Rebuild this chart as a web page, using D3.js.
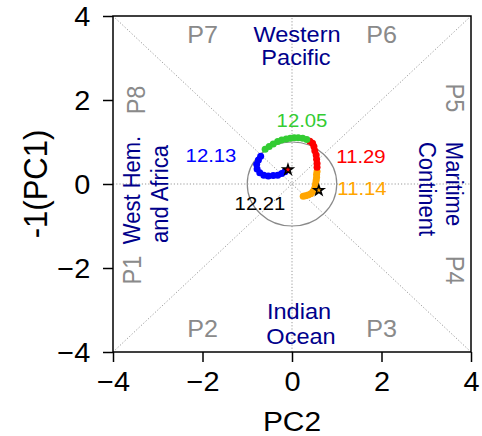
<!DOCTYPE html>
<html>
<head>
<meta charset="utf-8">
<script src="https://cdn.jsdelivr.net/npm/d3@7"></script>
<style>
  html, body { margin: 0; padding: 0; background: #fff; }
  svg { display: block; font-family: "Liberation Sans", Arial, sans-serif; }
</style>
</head>
<body>
<svg id="chart" width="482" height="436"></svg>
<script>
// RMM index trajectory (PC2, -PC1) by segment
const orangeSeg = [[0.25,-0.29],[0.30,-0.28],[0.36,-0.26],[0.42,-0.23],[0.47,-0.18],[0.50,-0.12],[0.52,-0.05],[0.53,0.02],[0.54,0.09],[0.55,0.16],[0.55,0.23],[0.56,0.30]];
const redSeg = [[0.56,0.40],[0.56,0.49],[0.55,0.59],[0.54,0.69],[0.51,0.79],[0.49,0.89],[0.46,0.97],[0.40,1.02]];
const greenSeg = [[0.33,1.06],[0.24,1.09],[0.14,1.10],[0.05,1.10],[-0.04,1.09],[-0.13,1.07],[-0.23,1.05],[-0.32,1.01],[-0.42,0.95],[-0.51,0.89],[-0.60,0.83]];
const blueSeg = [[-0.70,0.66],[-0.75,0.57],[-0.79,0.47],[-0.78,0.36],[-0.72,0.27],[-0.63,0.21],[-0.53,0.19],[-0.42,0.20],[-0.32,0.21],[-0.23,0.25],[-0.16,0.29]];
const startPoint = [0.60,-0.15];
const endPoint = [-0.09,0.34];
const dateLabels = ["11.14","11.29","12.05","12.13","12.21"];
const ticks = [-4,-2,0,2,4];
const phaseLabels = ["P1","P2","P3","P4","P5","P6","P7","P8"];
const regionLabels = [["West Hem.","and Africa"],["Indian","Ocean"],["Maritime","Continent"],["Western","Pacific"]];

const svg = d3.select("#chart");
const x = d3.scaleLinear().domain([-4,4]).range([113,471]);
const y = d3.scaleLinear().domain([-4,4]).range([352,16]);
const fmt = d => d < 0 ? "\u2212" + Math.abs(d) : String(d);
const SX = 1.07; // glyphs are drawn slightly wide

// text helper: position, optional rotation, horizontal widening
function label(parent, str, px, py, opts = {}) {
  const g = parent.append("g")
    .attr("transform", `translate(${px},${py}) scale(${SX},1) rotate(${opts.rotate || 0})`);
  return g.append("text")
    .attr("text-anchor", opts.anchor || "middle")
    .attr("dominant-baseline", opts.baseline || "auto")
    .attr("font-size", opts.size || 20)
    .attr("fill", opts.fill || "#000")
    .text(str);
}

// phase-space guide lines
const guides = [[[0,-4],[0,4]],[[-4,0],[4,0]],[[-4,-4],[4,4]],[[-4,4],[4,-4]]];
svg.append("g").selectAll("line").data(guides).join("line")
  .attr("x1", d => x(d[0][0])).attr("y1", d => y(d[0][1]))
  .attr("x2", d => x(d[1][0])).attr("y2", d => y(d[1][1]))
  .attr("stroke", "#999").attr("stroke-width", 1).attr("stroke-dasharray", "1.2,2");

// unit amplitude circle
svg.append("ellipse")
  .attr("cx", x(0)).attr("cy", y(0))
  .attr("rx", x(1) - x(0)).attr("ry", y(0) - y(1))
  .attr("fill", "none").attr("stroke", "#8a8a8a").attr("stroke-width", 1.2);

// phase labels
const gray = "#8a8a8a";
const pl = svg.append("g");
const phasePos = [
  [phaseLabels[0], -3.58, -2.05, -90], [phaseLabels[1], -2, -3.45, 0],
  [phaseLabels[2], 2, -3.45, 0],       [phaseLabels[3], 3.63, -2.05, 90],
  [phaseLabels[4], 3.63, 2.05, 90],    [phaseLabels[5], 2, 3.55, 0],
  [phaseLabels[6], -2, 3.55, 0],       [phaseLabels[7], -3.48, 2, -90]
];
phasePos.forEach(([t,a,b,r]) => label(pl, t, x(a), y(b), {rotate: r, size: 23.5, fill: gray, baseline: "central"}));

// region labels
const navy = "#00008b";
const rg = svg.append("g");
label(rg, regionLabels[3][0], 297, 42, {size: 22, fill: navy});
label(rg, regionLabels[3][1], 296, 65, {size: 22, fill: navy});
label(rg, regionLabels[1][0], 299, 319, {size: 22, fill: navy});
label(rg, regionLabels[1][1], 301, 344, {size: 22, fill: navy});
label(rg, regionLabels[0][0], 140, 190, {size: 22, fill: navy, rotate: -90});
label(rg, regionLabels[0][1], 168, 194, {size: 22, fill: navy, rotate: -90});
label(rg, regionLabels[2][0], 446, 184, {size: 22, fill: navy, rotate: 90});
label(rg, regionLabels[2][1], 419, 189, {size: 22, fill: navy, rotate: 90});

// trajectory segments
const segs = [[orangeSeg,"#ffa500"],[redSeg,"#ff0000"],[greenSeg,"#33cc33"],[blueSeg,"#0000ff"]];
const line = d3.line().x(d => x(d[0])).y(d => y(d[1]));
segs.forEach(([pts,c]) => {
  svg.append("path").attr("d", line(pts)).attr("fill","none").attr("stroke", c).attr("stroke-width", 1.5);
  svg.append("g").selectAll("circle").data(pts).join("circle")
    .attr("cx", d => x(d[0])).attr("cy", d => y(d[1])).attr("r", 3.5).attr("fill", c);
});

// start / end markers
const star = d3.symbol().type(d3.symbolStar).size(30);
svg.append("path").attr("d", star()).attr("transform", `translate(${x(startPoint[0])},${y(startPoint[1])})`)
  .attr("fill", "#ffa500").attr("stroke", "#000").attr("stroke-width", 1.5);
svg.append("path").attr("d", star()).attr("transform", `translate(${x(endPoint[0])},${y(endPoint[1])})`)
  .attr("fill", "#ff0000").attr("stroke", "#000").attr("stroke-width", 1.5);

// date labels
const dl = svg.append("g");
label(dl, dateLabels[0], 362, 195, {size: 19, fill: "#ffa500"});
label(dl, dateLabels[1], 361, 163, {size: 19, fill: "#ff0000"});
label(dl, dateLabels[2], 302, 127, {size: 19, fill: "#33cc33"});
label(dl, dateLabels[3], 211, 162, {size: 19, fill: "#0000ff"});
label(dl, dateLabels[4], 260, 210, {size: 19, fill: "#000"});

// axes
const xAxis = d3.axisBottom(x).tickValues(ticks).tickFormat(fmt).tickSize(10).tickSizeOuter(0);
const yAxis = d3.axisLeft(y).tickValues(ticks).tickFormat(fmt).tickSize(10).tickSizeOuter(0);
const gx = svg.append("g").attr("transform", `translate(0,${y(-4)})`).call(xAxis);
const gy = svg.append("g").attr("transform", `translate(${x(-4)},0)`).call(yAxis);
[gx, gy].forEach(g => {
  g.select(".domain").remove();
  g.selectAll(".tick line").attr("stroke", "#000").attr("stroke-width", 1.5);
  g.selectAll(".tick text").attr("font-size", 27).attr("font-family", "Liberation Sans, Arial, sans-serif").attr("fill", "#000");
});
gx.selectAll(".tick text").attr("dy", "0.95em").attr("transform", `scale(${SX},1)`);
gy.selectAll(".tick text").attr("x", -20).attr("dy", "0.35em")
  .attr("transform", `translate(${-20 * (SX - 1)},0) scale(${SX},1)`);

// frame
svg.append("rect").attr("x", x(-4)).attr("y", y(4))
  .attr("width", x(4) - x(-4)).attr("height", y(-4) - y(4))
  .attr("fill", "none").attr("stroke", "#000").attr("stroke-width", 1.5);

// axis titles
label(svg, "PC2", x(0), 431, {size: 28});
label(svg, "-1(PC1)", 47, y(0), {size: 31, rotate: -90});
</script>
</body>
</html>
